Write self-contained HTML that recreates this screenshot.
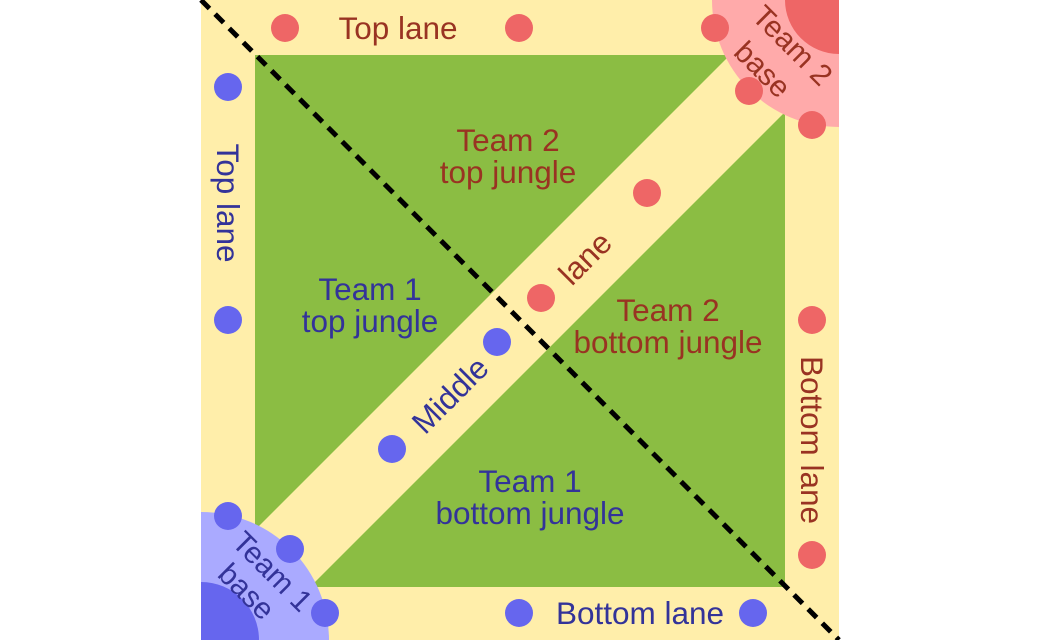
<!DOCTYPE html>
<html><head><meta charset="utf-8"><style>
html,body{margin:0;padding:0;background:#fff;width:1040px;height:640px;overflow:hidden;}
svg{display:block;}
text{font-family:"Liberation Sans",sans-serif;font-size:31.5px;}
.r{fill:#993322;} .b{fill:#333399;}
.s{font-size:30px;}
</style></head><body>
<svg width="1040" height="640" viewBox="0 0 1040 640" xmlns="http://www.w3.org/2000/svg">
<defs><clipPath id="c"><rect x="201" y="0" width="638" height="640"/></clipPath></defs>
<rect x="0" y="0" width="1040" height="640" fill="#fff"/>
<rect x="201" y="0" width="638" height="640" fill="#ffeeaa"/>
<polygon points="255,55 730,55 255,530" fill="#8bbd43"/>
<polygon points="785,112 785,587 310,587" fill="#8bbd43"/>
<g clip-path="url(#c)">
<circle cx="839" cy="0" r="127" fill="#ffaaaa"/>
<circle cx="839" cy="0" r="54" fill="#ee6666"/>
<circle cx="201" cy="640" r="128" fill="#aaaaff"/>
<circle cx="201" cy="640" r="58" fill="#6666ee"/>
</g>
<g fill="#ee6666">
<circle cx="285" cy="28" r="14"/><circle cx="519" cy="28" r="14"/><circle cx="715" cy="28" r="14"/>
<circle cx="749" cy="91" r="14"/><circle cx="812" cy="125" r="14"/><circle cx="647" cy="193" r="14"/>
<circle cx="541" cy="298" r="14"/><circle cx="812" cy="320" r="14"/><circle cx="812" cy="555" r="14"/>
</g>
<g fill="#6666ee">
<circle cx="228" cy="87" r="14"/><circle cx="228" cy="320" r="14"/><circle cx="497" cy="342" r="14"/>
<circle cx="392" cy="449" r="14"/><circle cx="228" cy="516" r="14"/><circle cx="290" cy="549" r="14"/>
<circle cx="325" cy="613" r="14"/><circle cx="519" cy="613" r="14"/><circle cx="753" cy="613" r="14"/>
</g>
<line x1="201" y1="0" x2="839" y2="640" stroke="#000" stroke-width="5" stroke-dasharray="12,8"/>
<g text-anchor="middle" dominant-baseline="central">
<text class="r" x="398" y="28">Top lane</text>
<text class="b" x="640" y="613">Bottom lane</text>
<text class="b" transform="translate(228,203) rotate(90)">Top lane</text>
<text class="r" transform="translate(812,440) rotate(90)">Bottom lane</text>
<text class="r" x="508" y="140">Team 2</text>
<text class="r" x="508" y="172">top jungle</text>
<text class="b" x="370" y="289">Team 1</text>
<text class="b" x="370" y="321">top jungle</text>
<text class="r" x="668" y="310">Team 2</text>
<text class="r" x="668" y="342">bottom jungle</text>
<text class="b" x="530" y="481">Team 1</text>
<text class="b" x="530" y="513">bottom jungle</text>
<text class="b" transform="translate(450,395) rotate(-45)">Middle</text>
<text class="r" transform="translate(585,258) rotate(-45)">lane</text>
<text class="r s" transform="translate(792,46) rotate(45)">Team 2</text>
<text class="r s" transform="translate(762,70) rotate(45)">base</text>
<text class="b s" transform="translate(272,572) rotate(45)">Team 1</text>
<text class="b s" transform="translate(246,592) rotate(45)">base</text>
</g>
</svg>
</body></html>
